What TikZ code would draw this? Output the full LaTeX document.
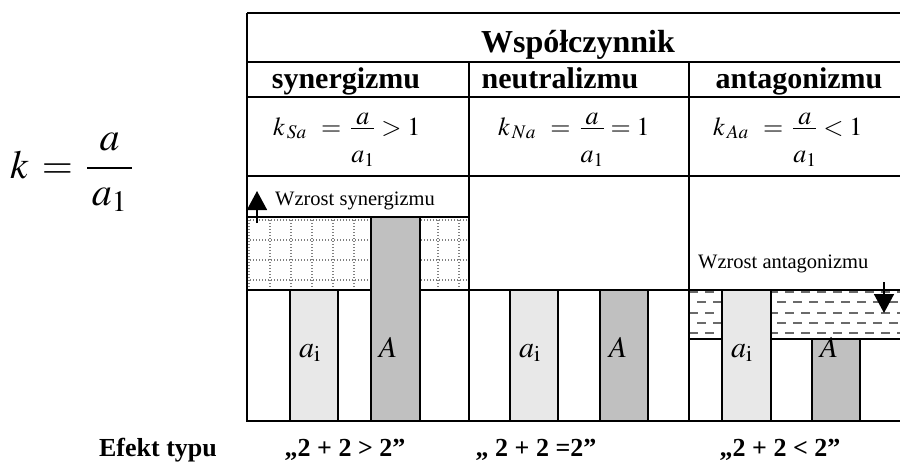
\documentclass[tikz,border=0pt]{standalone}
\usepackage{amsmath}
\usepackage{mathptmx}
\usepackage{fontspec}
\setmainfont{Liberation Serif}
\usetikzlibrary{arrows.meta}
\definecolor{barlight}{HTML}{E8E8E8}
\definecolor{bardark}{HTML}{C0C0C0}
\definecolor{dashgray}{HTML}{6A6A6A}
\newcommand{\ratio}{\dfrac{\lower7pt\hbox{$a$}}{\rule{0pt}{30pt}a_{1}}}
\begin{document}
\begin{tikzpicture}[x=1pt,y=-1pt,
  frame/.style={line width=1.6pt},
  head/.style={font=\bfseries\fontsize{30}{34}\selectfont,anchor=base,inner sep=0pt},
  effect/.style={font=\bfseries\fontsize{26}{30}\selectfont,anchor=base,inner sep=0pt},
  formula/.style={font=\fontsize{26}{30}\selectfont,anchor=base west,inner sep=0pt},
  note/.style={font=\fontsize{20.5}{24}\selectfont,anchor=base west,inner sep=0pt},
  barlabel/.style={font=\fontsize{30}{34}\selectfont,anchor=base,inner sep=0pt},
  lightbar/.style={frame,fill=barlight},
  darkbar/.style={frame,fill=bardark},
  dotline/.style={gray,line width=1.1pt,dash pattern=on 1.1pt off 1.9pt},
  dashline/.style={dashgray,line width=2.2pt},
  growarrow/.style={line width=1.6pt,-{Triangle[width=20pt,length=19pt]}}]
\useasboundingbox (0,0) rectangle (900,466);

% left formula
\node[font=\fontsize{40}{44}\selectfont,anchor=base east,inner sep=0pt] (kdef) at (133,178) {$k\,=\,\dfrac{a}{\,a_{1}\,}$};

% synergy: dotted box
\begin{scope}
\clip (247,217) rectangle (469,290);
\foreach \y in {220,240,260,280} \draw[dotline] (247,\y) -- (469,\y);
\foreach \x in {249,270,...,469} \draw[dotline] (\x,217) -- (\x,290);
\end{scope}
\draw[frame] (247,217) rectangle (469,290);

% antagonism: dashed box
\begin{scope}
\clip (689,290) rectangle (900,339);
\foreach \y/\s in {292/0,302/8,313/0,323/8,333/0}
  \draw[dashline,dash pattern=on 9pt off 7pt,dash phase=\s pt] (689,\y) -- (900,\y);
\end{scope}
\draw[frame] (689,290) rectangle (902,339);

% table lines
\draw[frame] (247,13) -- (902,13);
\draw[frame] (247,62) -- (902,62);
\draw[frame] (247,97) -- (902,97);
\draw[frame] (247,176) -- (902,176);
\draw[frame] (469,290) -- (689,290);
\draw[frame] (247,13) -- (247,421) -- (902,421);
\draw[frame] (469,62) -- (469,421);
\draw[frame] (689,62) -- (689,421);

% bars
\draw[lightbar] (290,290) rectangle (338,421);
\draw[darkbar] (371,217) rectangle (420,421);
\draw[lightbar] (510,290) rectangle (558,421);
\draw[darkbar] (600,290) rectangle (648,421);
\draw[lightbar] (722,290) rectangle (771,421);
\draw[darkbar] (812,339) rectangle (860,421);

\node[barlabel] (aiS) at (310,357) {$a_{\mathrm{i}}$};
\node[barlabel] (AS) at (388,357) {$A$};
\node[barlabel] (aiN) at (530,357) {$a_{\mathrm{i}}$};
\node[barlabel] (AN) at (618,357) {$A$};
\node[barlabel] (aiA) at (742,357) {$a_{\mathrm{i}}$};
\node[barlabel] (AA) at (829,357) {$A$};

% header
\node[head,font=\bfseries\fontsize{32}{36}\selectfont] (coef) at (578,52) {Współczynnik};
\node[head] (syn) at (346,88) {synergizmu};
\node[head] (neu) at (560,88) {neutralizmu};
\node[head] (ant) at (799,88) {antagonizmu};

\node[formula] (kS) at (273,135) {$k_{\,Sa}\;\,=\,\ratio>1$};
\node[formula] (kN) at (498,135) {$k_{\,Na}\;\,=\,\ratio=1$};
\node[formula] (kA) at (713,135) {$k_{\,Aa}\;\,=\,\ratio<1$};

% growth arrows
\node[note] (synUp) at (275,205) {Wzrost synergizmu};
\node[note] (antUp) at (698,268) {Wzrost antagonizmu};
\coordinate (synTail) at (257,223);
\coordinate (synTip) at (257,191);
\draw[growarrow] (synTail) -- (synTip);
\coordinate (antTail) at (884,282);
\coordinate (antTip) at (884,313);
\draw[growarrow] (antTail) -- (antTip);

% effect row
\node[effect] (eff) at (158,456) {Efekt typu};
\node[effect] (effS) at (345,456) {„2 + 2 > 2”};
\node[effect] (effN) at (536,456) {„ 2 + 2 =2”};
\node[effect] (effA) at (780,456) {„2 + 2 < 2”};
\end{tikzpicture}
\end{document}
